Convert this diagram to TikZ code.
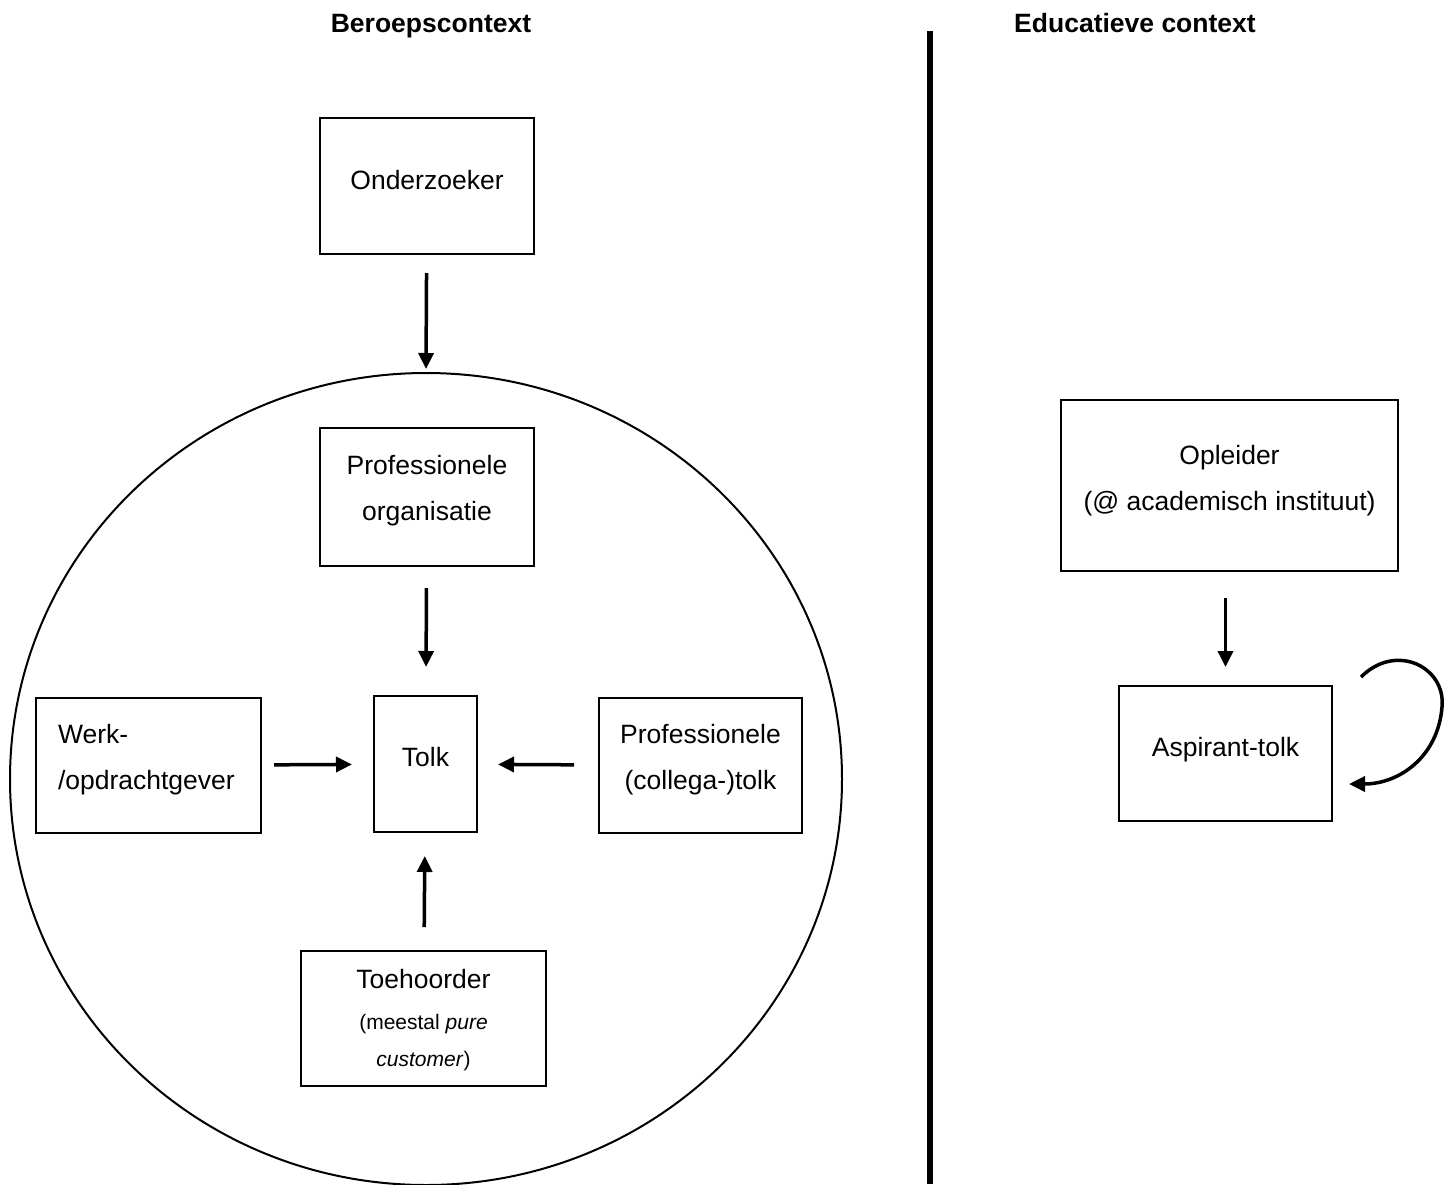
\documentclass[tikz,border=0pt]{standalone}
\usepackage{fontspec}
\setmainfont{Liberation Sans}
\usetikzlibrary{arrows.meta,shapes.geometric,calc}
\begin{document}
\begin{tikzpicture}[x=1pt,y=-1pt,
  box/.style={draw,line width=2pt,inner sep=0pt},
  txt/.style={inner sep=0pt,align=center,font=\fontsize{26.5}{46}\selectfont},
  note/.style={inner sep=0pt,align=center,font=\fontsize{21}{36}\selectfont},
  arr/.style={line width=3.5pt,-{Triangle[length=16pt,width=15pt]}},
  heading/.style={anchor=base,font=\bfseries\fontsize{26.5}{32}\selectfont}]
\useasboundingbox (0,0) rectangle (1449,1184);

% headings and divider
\node[heading] (h1) at (431,32) {Beroepscontext};
\node[heading] (h2) at (1135,32) {Educatieve context};
\draw[line width=6pt] (930,31) -- (930,1184);

% professional context: boxes
\node[box,minimum width=214pt,minimum height=136pt] (ond) at (427,186) {};
\node[box,ellipse,minimum width=832pt,minimum height=812pt] (circ) at (426,779) {};
\node[box,minimum width=214pt,minimum height=138pt] (org) at (427,497) {};
\node[box,minimum width=103pt,minimum height=136pt] (tolk) at (425.5,764) {};
\node[box,minimum width=225pt,minimum height=135pt] (werk) at (148.5,765.5) {};
\node[box,minimum width=203pt,minimum height=135pt] (coll) at (700.5,765.5) {};
\node[box,minimum width=245pt,minimum height=135pt] (toe) at (423.5,1018.5) {};

% professional context: labels
\node[txt] (ondT) at ([yshift=6pt]ond.center) {Onderzoeker};
\node[txt] (orgT) at ([yshift=6.5pt]org.center) {Professionele\\organisatie};
\node[txt] (tolkT) at ([yshift=7pt]tolk.center) {Tolk};
\node[txt,align=left,text width=181pt] (werkT) at ([yshift=5.5pt]werk.center)
  {Werk-\\/opdrachtgever};
\node[txt] (collT) at ([yshift=5.5pt]coll.center) {Professionele\\(collega-)tolk};
\node[txt] (toeT) at ([yshift=39pt]toe.center) {Toehoorder};
\node[note] (toeN1) at ([yshift=-6pt]toe.center) {(meestal \textit{pure}};
\node[note] (toeN2) at ([yshift=-42.5pt]toe.center) {\textit{customer})};

% professional context: influences
\draw[arr,shorten <=18pt,shorten >=3pt] (ond) -- (circ.north);
\draw[arr,shorten <=21pt,shorten >=28pt] (org) -- (tolk);
\draw[arr,shorten <=12pt,shorten >=21pt] (werk) -- (tolk);
\draw[arr,shorten <=24pt,shorten >=20pt] (coll) -- (tolk);
\draw[arr,shorten <=23pt,shorten >=23pt] (toe) -- (tolk);

% educational context
\node[box,minimum width=337pt,minimum height=171pt] (opl) at (1229.5,485.5) {};
\node[box,minimum width=213pt,minimum height=135pt] (asp) at (1225.5,753.5) {};
\node[txt] (oplT) at ([yshift=4.5pt]opl.center) {Opleider\\(@ academisch instituut)};
\node[txt] (aspT) at ([yshift=4pt]asp.center) {Aspirant-tolk};
\draw[arr,shorten <=26pt,shorten >=18pt] (opl.south -| asp) -- (asp.north);

% self-reflection loop
\coordinate (loopA) at ($(asp.north east)+(28,-8)$);
\coordinate (loopB) at ($(asp.north east)+(109,22)$);
\coordinate (loopC) at ($(asp.north east)+(16,99)$);
\draw[arr] (loopA) .. controls ($(loopA)+(35,-35)$) and ($(loopB)+(4,-40)$) .. (loopB)
  .. controls ($(loopB)+(-4,50)$) and ($(loopC)+(50,0)$) .. (loopC);
\end{tikzpicture}
\end{document}
